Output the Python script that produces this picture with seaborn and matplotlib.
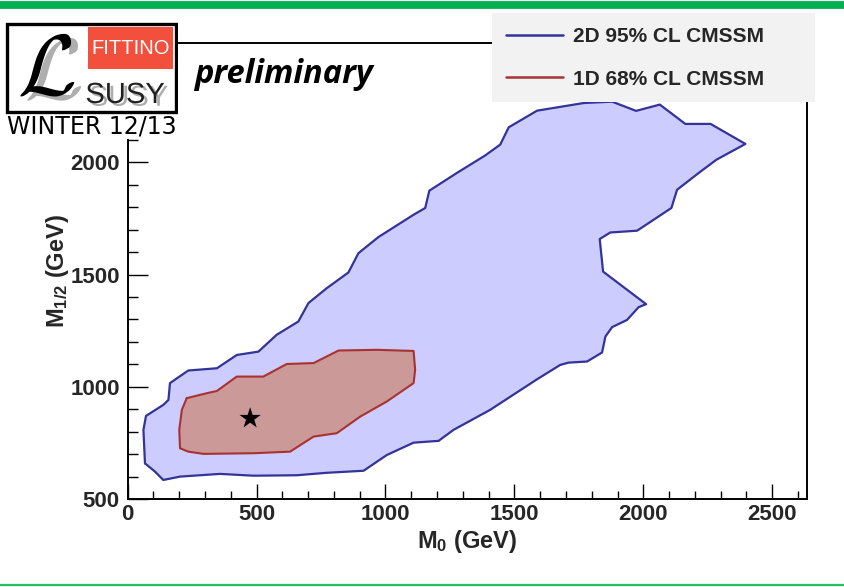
import numpy as np
import pandas as pd
import matplotlib
matplotlib.use("Agg")
import matplotlib.pyplot as plt
import matplotlib.patheffects as pe
import seaborn as sns
from matplotlib.lines import Line2D
from matplotlib.patches import Rectangle
from matplotlib.ticker import MultipleLocator

# ---------------- data ----------------
blue_m0 = [67, 61, 71, 138, 158, 164, 235, 346, 423, 507, 578, 662, 701, 773, 856, 895, 973, 1109, 1154, 1170,
           1277, 1387, 1445, 1478, 1588, 1769, 1879, 1972, 2064, 2163, 2261, 2396, 2284, 2215, 2131, 2109, 1976, 1872,
           1831, 1844, 2011, 1982, 1937, 1879, 1853, 1840, 1782, 1710, 1678, 1588, 1406, 1264, 1206, 1109, 1005, 915,
           773, 656, 488, 358, 203, 138, 106]
blue_m12 = [660, 809, 871, 920, 942, 1017, 1073, 1083, 1142, 1157, 1232, 1291, 1373, 1440, 1509, 1595, 1667, 1766,
            1796, 1873, 1952, 2030, 2078, 2155, 2229, 2263, 2269, 2228, 2256, 2170, 2170, 2081, 2011, 1952, 1877, 1796,
            1695, 1687, 1658, 1513, 1368, 1355, 1298, 1266, 1224, 1153, 1113, 1108, 1098, 1034, 898, 809, 760, 752,
            697, 627, 618, 607, 605, 613, 601, 586, 623]
red_m0 = [229, 307, 346, 423, 526, 617, 721, 818, 967, 1109, 1115, 1109, 1005, 902, 811, 721, 630, 488, 294, 235,
          203, 200, 210]
red_m12 = [950, 972, 982, 1046, 1046, 1102, 1106, 1162, 1165, 1160, 1076, 1017, 935, 868, 794, 779, 712, 705, 702,
           712, 727, 809, 898]
best_m0 = [475]
best_m12 = [860]

series_labels = ["2D 95% CL CMSSM", "1D 68% CL CMSSM"]
x_ticks = [0, 500, 1000, 1500, 2000, 2500]
y_ticks = [500, 1000, 1500, 2000]
x_range = (0, 2635)
y_range = (500, 2530)

# ---------------- style ----------------
sns.set_theme(style="ticks")
plt.rcParams["font.family"] = ["Liberation Sans", "DejaVu Sans"]
plt.rcParams["font.weight"] = "bold"
plt.rcParams["mathtext.fontset"] = "custom"
plt.rcParams["mathtext.rm"] = "Liberation Sans:bold"
plt.rcParams["mathtext.bf"] = "Liberation Sans:bold"
plt.rcParams["mathtext.it"] = "Liberation Sans:bold"
plt.rcParams["mathtext.default"] = "bf"

W, H = 845, 587
fig = plt.figure(figsize=(W / 100, H / 100), dpi=100)
fig.patch.set_facecolor("white")

ax = fig.add_axes([127.7 / W, 1 - 499.3 / H, (807 - 127.7) / W, (499.3 - 43) / H])
ax.set_facecolor("white")

blue_fill, blue_line = "#ccccff", "#333399"
red_fill, red_line = "#cc9999", "#a83232"

blue = pd.DataFrame({"m0": blue_m0 + blue_m0[:1], "m12": blue_m12 + blue_m12[:1]})
red = pd.DataFrame({"m0": red_m0 + red_m0[:1], "m12": red_m12 + red_m12[:1]})

ax.fill(blue["m0"], blue["m12"], color=blue_fill, lw=0, zorder=1)
sns.lineplot(data=blue, x="m0", y="m12", sort=False, estimator=None, color=blue_line, lw=1.6, ax=ax, zorder=2)
ax.fill(red["m0"], red["m12"], color=red_fill, lw=0, zorder=3)
sns.lineplot(data=red, x="m0", y="m12", sort=False, estimator=None, color=red_line, lw=1.5, ax=ax, zorder=4)
sns.scatterplot(x=best_m0, y=best_m12, marker="*", s=260, color="black", edgecolor="none", ax=ax, zorder=5)

ax.set_xlim(*x_range)
ax.set_ylim(*y_range)
ax.set_xticks(x_ticks)
ax.set_yticks(y_ticks)
ax.xaxis.set_minor_locator(MultipleLocator(100))
ax.yaxis.set_minor_locator(MultipleLocator(100))
ax.tick_params(axis="both", which="both", direction="in", top=False, right=False, color="black", width=1.0)
ax.tick_params(axis="x", which="major", length=10.8, labelsize=16, pad=3.5)
ax.tick_params(axis="x", which="minor", length=5.5)
ax.tick_params(axis="y", which="major", length=14.4, labelsize=16, pad=5.8)
ax.tick_params(axis="y", which="minor", length=7.2)
for lab in ax.get_xticklabels() + ax.get_yticklabels():
    lab.set_fontweight("bold")
for sp in ax.spines.values():
    sp.set_color("black")
    sp.set_linewidth(1.4)

ax.set_xlabel(r"M$_0$ (GeV)", fontsize=17, fontweight="bold")
ax.set_ylabel(r"M$_{1/2}$ (GeV)", fontsize=17, fontweight="bold")
ax.xaxis.set_label_coords(0.5, -0.062)
ax.yaxis.set_label_coords(-0.083, 0.5)

# ---------------- legend ----------------
handles = [Line2D([], [], color=blue_line, lw=1.8), Line2D([], [], color=red_line, lw=1.8)]
leg = fig.legend(handles, series_labels, loc="upper left",
                 bbox_to_anchor=(492 / W, 1 - 100 / H, (815 - 492) / W, 86.7 / H),
                 mode="expand", borderaxespad=0, frameon=True, fancybox=False,
                 facecolor="#f2f2f2", edgecolor="none", framealpha=1,
                 prop={"family": "Liberation Sans", "weight": "bold", "size": 15},
                 handlelength=2.75, handletextpad=0.48, borderpad=0.65, labelspacing=1.14)

# ---------------- logo ----------------
lg = fig.add_axes([0, 1 - 139 / H, 178 / W, (139 - 20) / H])
lg.set_xlim(0, 178)
lg.set_ylim(139, 20)
lg.axis("off")
lg.add_patch(Rectangle((0, 20), 178, 119, facecolor="white", edgecolor="none", zorder=0))
lg.add_patch(Rectangle((88, 27), 85, 42, facecolor="#f24f3c", edgecolor="none", zorder=1))
lg.add_patch(Rectangle((7.5, 23.5), 169, 88.5, fill=False, edgecolor="black", lw=2.4, zorder=6))
lg.text(130.5, 49, "FITTINO", color="white", fontsize=14.5, family="Liberation Sans", fontweight="normal",
        ha="center", va="center", zorder=2)
lg.text(47, 95, r"$\mathcal{L}$", math_fontfamily="cm", fontsize=62, color="black",
        ha="center", va="baseline", zorder=3,
        path_effects=[pe.withSimplePatchShadow(offset=(5, -3), shadow_rgbFace="#9a9a9a", alpha=0.8)])
lg.text(125, 103, "SUSY", color="#202020", fontsize=21, family="Liberation Sans", fontweight="normal",
        ha="center", va="baseline", zorder=4,
        path_effects=[pe.withSimplePatchShadow(offset=(2.5, -2), shadow_rgbFace="#8a8a8a", alpha=0.7)])
lg.text(92, 134, "WINTER 12/13", color="black", fontsize=17, family="DejaVu Sans", fontweight="normal",
        ha="center", va="baseline", zorder=3)

fig.text(194 / W, 1 - 83 / H, "preliminary", fontsize=23.5, family=["Open Sans", "DejaVu Sans"],
         fontweight="bold", fontstyle="italic", ha="left", va="baseline", color="black")

# ---------------- green rules ----------------
fig.add_artist(Line2D([0, 1], [1 - 4.8 / H, 1 - 4.8 / H], transform=fig.transFigure, color="#00b050", lw=5.6))
fig.add_artist(Line2D([0, 1], [1 - 585 / H, 1 - 585 / H], transform=fig.transFigure, color="#22c25c", lw=1.6))

fig.savefig("out.png", dpi=100, facecolor="white")
